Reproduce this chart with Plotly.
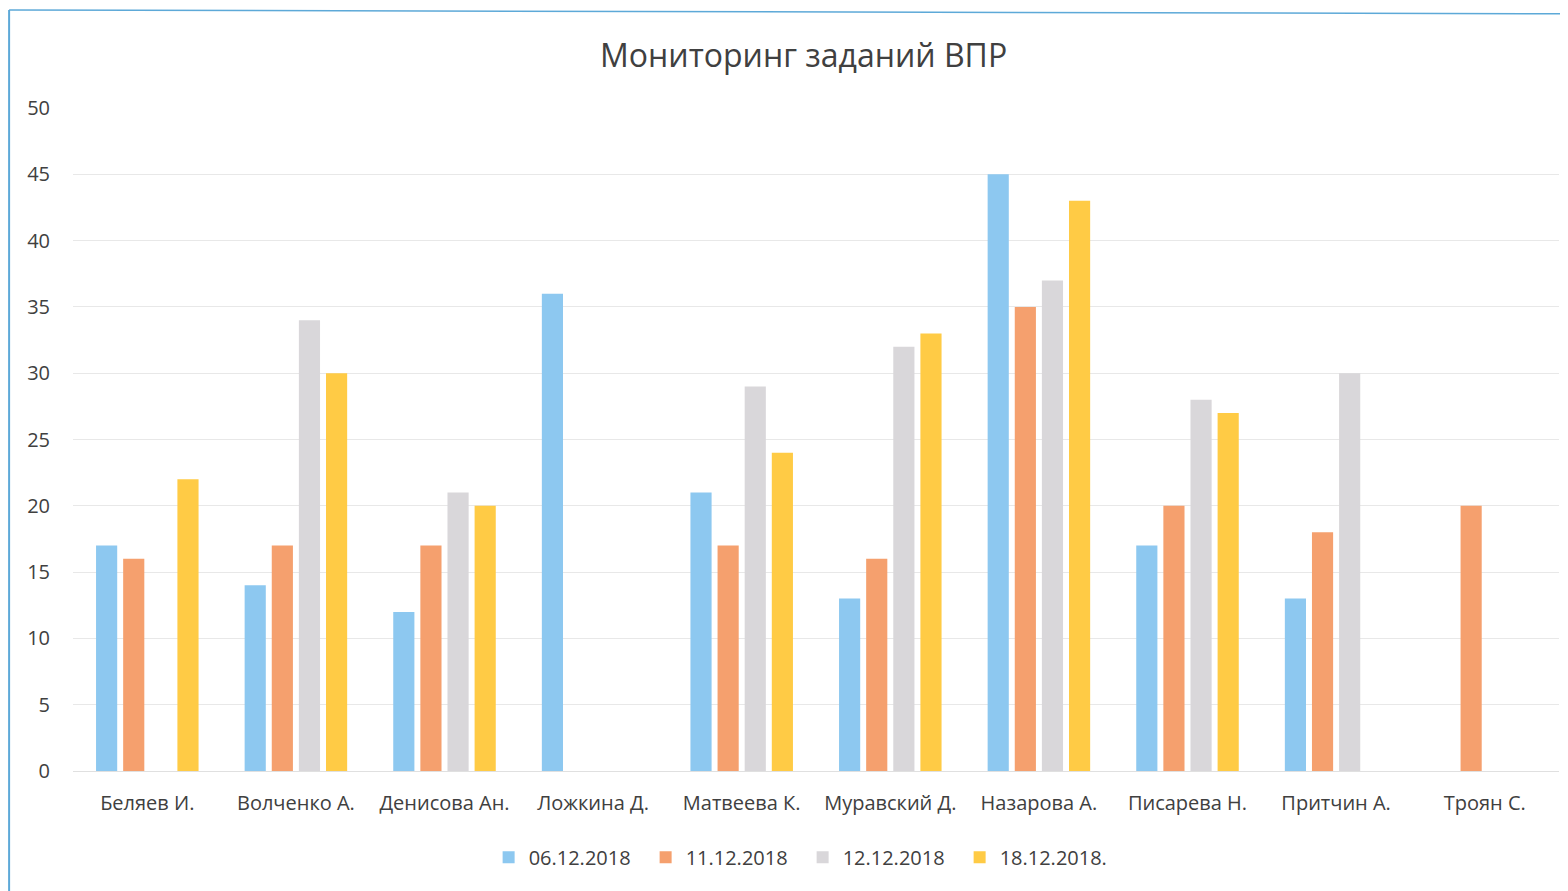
import plotly.graph_objects as go

categories = ["Беляев И.", "Волченко А.", "Денисова Ан.", "Ложкина Д.", "Матвеева К.",
              "Муравский Д.", "Назарова А.", "Писарева Н.", "Притчин А.", "Троян С."]
s_0612 = [17, 14, 12, 36, 21, 13, 45, 17, 13, None]
s_1112 = [16, 17, 17, None, 17, 16, 35, 20, 18, 20]
s_1212 = [None, 34, 21, None, 29, 32, 37, 28, 30, None]
s_1812 = [22, 30, 20, None, 24, 33, 43, 27, None, None]
series_names = ["06.12.2018", "11.12.2018", "12.12.2018", "18.12.2018."]
colors = ["#8DC8F0", "#F5A06E", "#D9D7DA", "#FFCB45"]

fig = go.Figure()
for name, vals, c in zip(series_names, [s_0612, s_1112, s_1212, s_1812], colors):
    fig.add_trace(go.Bar(x=categories, y=vals, name=name, marker=dict(color=c, line=dict(width=0))))

font = "Open Sans, Liberation Sans, sans-serif"
fig.update_layout(
    width=1560, height=883,
    paper_bgcolor="white", plot_bgcolor="white",
    barmode="group", bargap=0.27, bargroupgap=0.22,
    margin=dict(l=65, r=9, t=100, b=120),
    title=dict(text="Мониторинг заданий ВПР", x=0.51, xanchor="center", y=0.946, yanchor="middle",
               font=dict(family=font, size=32, color="#404040")),
    font=dict(family=font, color="#404040"),
    legend=dict(orientation="h", x=0.491, xanchor="center", y=-0.13, yanchor="middle",
                font=dict(size=20, color="#404040"), entrywidth=112, entrywidthmode="pixels",
                traceorder="normal", itemwidth=30),
    yaxis=dict(range=[0, 50], dtick=5, showgrid=True, gridcolor="#E8E8E8", gridwidth=1,
               zeroline=False, showline=False, tickfont=dict(size=20, color="#404040"),
               ticklabelstandoff=22),
    xaxis=dict(showgrid=False, showline=True, linecolor="#E0E0E0", tickfont=dict(size=20, color="#404040"),
               ticklabelstandoff=14),
    shapes=[dict(type="line", xref="paper", yref="paper", x0=-0.043, x1=-0.043, y0=-0.2, y1=1.148,
                 line=dict(color="#5DA9D8", width=2)),
            dict(type="line", xref="paper", yref="paper", x0=-0.043, x1=1.006, y0=1.148, y1=1.142,
                 line=dict(color="#5DA9D8", width=1.5))],
)
fig.write_html("out.html")
